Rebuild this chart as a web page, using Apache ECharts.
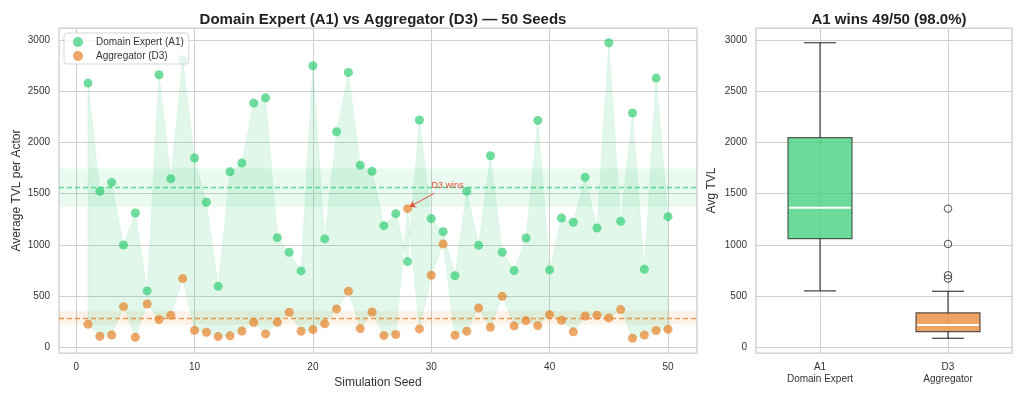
<!DOCTYPE html>
<html><head><meta charset="utf-8">
<script src="https://cdn.jsdelivr.net/npm/echarts@6/dist/echarts.min.js"></script>
<style>html,body{margin:0;padding:0;background:#fff}#c{width:1022px;height:399px}</style>
</head><body><div id="c"></div>
<script>
// ---------- data ----------
const seeds = [1,2,3,4,5,6,7,8,9,10,11,12,13,14,15,16,17,18,19,20,21,22,23,24,25,26,27,28,29,30,31,32,33,34,35,36,37,38,39,40,41,42,43,44,45,46,47,48,49,50];
const a1Values = [2578,1523,1610,1000,1312,552,2659,1646,2805,1848,
                  1416,597,1714,1799,2383,2435,1071,929,747,2747,
                  1059,2104,2682,1776,1718,1188,1305,838,2218,1257,
                  1130,701,1523,997,1870,929,750,1068,2214,757,
                  1263,1221,1659,1166,2971,1231,2286,763,2627,1276];
const d3Values = [227,110,123,399,101,425,273,315,672,169,
                  149,107,114,162,244,133,247,344,159,175,
                  231,377,549,185,347,117,127,1354,182,705,
                  1010,120,159,386,198,500,211,263,214,321,
                  266,153,308,315,289,370,91,123,166,179];
const seedTicks = [0,10,20,30,40,50];
const tvlTicks = [0,500,1000,1500,2000,2500,3000];
const boxPositions = [1,2];
const boxLabels = ['A1\nDomain Expert','D3\nAggregator'];
const seriesNames = ['Domain Expert (A1)','Aggregator (D3)'];
const annotationText = 'D3 wins';

// ---------- helpers ----------
function mean(a){return a.reduce((s,v)=>s+v,0)/a.length;}
function std(a){const m=mean(a);return Math.sqrt(a.reduce((s,v)=>s+(v-m)*(v-m),0)/(a.length-1));}
function quantile(a,p){const s=[...a].sort((x,y)=>x-y);const pos=(s.length-1)*p;const lo=Math.floor(pos),hi=Math.ceil(pos);return s[lo]+(s[hi]-s[lo])*(pos-lo);}
function boxStats(a){
  const q1=quantile(a,0.25),q3=quantile(a,0.75),md=quantile(a,0.5),iqr=q3-q1;
  const lf=q1-1.5*iqr,uf=q3+1.5*iqr;
  const inside=a.filter(v=>v>=lf&&v<=uf);
  return {min:Math.min(...inside),q1,md,q3,max:Math.max(...inside),out:a.filter(v=>v<lf||v>uf)};
}
const n=seeds.length;
const mA=mean(a1Values), mD=mean(d3Values);
const ciA=1.96*std(a1Values)/Math.sqrt(n), ciD=1.96*std(d3Values)/Math.sqrt(n);
const allV=a1Values.concat(d3Values);
const yLo=Math.min(...allV), yHi=Math.max(...allV), yR=yHi-yLo;
const yMin=yLo-0.05*yR, yMax=yHi+0.05*yR;
const xR=seeds[n-1]-seeds[0];
const xMin=seeds[0]-0.05*xR, xMax=seeds[n-1]+0.05*xR;
const wins=a1Values.filter((v,i)=>v>d3Values[i]).length;
const lossIdx=d3Values.findIndex((v,i)=>v>a1Values[i]);
const bA=boxStats(a1Values), bD=boxStats(d3Values);
const boxData=[[boxPositions[0],bA.min,bA.q1,bA.md,bA.q3,bA.max],[boxPositions[1],bD.min,bD.q1,bD.md,bD.q3,bD.max]];
const outliers=[].concat(bA.out.map(v=>[boxPositions[0],v]),bD.out.map(v=>[boxPositions[1],v]));
const boxFill=['rgba(46,204,113,0.7)','rgba(230,126,34,0.7)'];
const fillData=seeds.map((s,i)=>[s,a1Values[i],d3Values[i]]);

const FONT="'Liberation Sans', Arial, sans-serif";
const TXT='#333333';
const GRIDC='#d0d0d0';
const chart=echarts.init(document.getElementById('c'),null,{renderer:'canvas'});
const ls=seeds[lossIdx], lv=d3Values[lossIdx];
const plain=v=>String(v);

chart.setOption({
  animation:false,
  textStyle:{fontFamily:FONT},
  title:[
    {text:'Domain Expert (A1) vs Aggregator (D3) \u2014 50 Seeds',left:378,top:7,textAlign:'center',
     textStyle:{fontSize:15,fontWeight:'bold',color:'#222',fontFamily:FONT}},
    {text:'A1 wins '+wins+'/'+n+' ('+(100*wins/n).toFixed(1)+'%)',left:884,top:7,textAlign:'center',
     textStyle:{fontSize:15,fontWeight:'bold',color:'#222',fontFamily:FONT}}
  ],
  legend:{
    data:seriesNames,left:64,top:33,orient:'vertical',icon:'circle',z:10,
    itemWidth:10,itemHeight:10,itemGap:4,padding:[4,5,3,9],
    backgroundColor:'rgba(255,255,255,0.8)',borderColor:'#d5d5d5',borderWidth:1,borderRadius:3,
    textStyle:{fontSize:10,color:TXT,fontFamily:FONT,padding:[0,0,0,8]}
  },
  grid:[
    {left:59,top:28,width:638,height:325,outerBoundsMode:'none',containLabel:false,show:true,borderColor:'#cccccc',borderWidth:1.25,backgroundColor:'#fff'},
    {left:756,top:28,width:256,height:325,outerBoundsMode:'none',containLabel:false,show:true,borderColor:'#cccccc',borderWidth:1.25,backgroundColor:'#fff'}
  ],
  xAxis:[
    {type:'value',gridIndex:0,min:xMin,max:xMax,
     name:'Simulation Seed',nameLocation:'middle',nameGap:24,nameMoveOverlap:false,nameTextStyle:{fontSize:12,color:TXT},
     axisLine:{show:false},axisTick:{show:false,customValues:seedTicks},
     axisLabel:{customValues:seedTicks,formatter:plain,fontSize:10,color:TXT,margin:9},
     splitLine:{show:true,lineStyle:{color:GRIDC,width:1}}},
    {type:'value',gridIndex:1,min:0.5,max:2.5,
     axisLine:{show:false},axisTick:{show:false,customValues:boxPositions},
     axisLabel:{customValues:boxPositions,formatter:v=>boxLabels[boxPositions.indexOf(v)]||'',
       fontSize:10,color:TXT,lineHeight:12,margin:8},
     splitLine:{show:true,lineStyle:{color:GRIDC,width:1}}}
  ],
  yAxis:[
    {type:'value',gridIndex:0,min:yMin,max:yMax,
     name:'Average TVL per Actor',nameLocation:'middle',nameGap:36,nameMoveOverlap:false,nameTextStyle:{fontSize:12,color:TXT},
     axisLine:{show:false},axisTick:{show:false,customValues:tvlTicks},
     axisLabel:{customValues:tvlTicks,formatter:plain,fontSize:10,color:TXT,margin:9},
     splitLine:{show:true,lineStyle:{color:GRIDC,width:1}}},
    {type:'value',gridIndex:1,min:yMin,max:yMax,
     name:'Avg TVL',nameLocation:'middle',nameGap:38,nameMoveOverlap:false,nameTextStyle:{fontSize:12,color:TXT},
     axisLine:{show:false},axisTick:{show:false,customValues:tvlTicks},
     axisLabel:{customValues:tvlTicks,formatter:plain,fontSize:10,color:TXT,margin:9},
     splitLine:{show:true,lineStyle:{color:GRIDC,width:1}}}
  ],
  series:[
    // mean bands + mean lines
    {type:'line',xAxisIndex:0,yAxisIndex:0,data:[],silent:true,z:1,
     markArea:{silent:true,itemStyle:{color:'rgba(46,204,113,0.1)'},data:[[{yAxis:mA-ciA},{yAxis:mA+ciA}]]},
     markLine:{silent:true,symbol:'none',label:{show:false},
       lineStyle:{color:'rgba(46,204,113,0.75)',type:[5,3],width:1.4},data:[{yAxis:mA}]}},
    {type:'line',xAxisIndex:0,yAxisIndex:0,data:[],silent:true,z:1,
     markArea:{silent:true,itemStyle:{color:'rgba(230,126,34,0.1)'},data:[[{yAxis:mD-ciD},{yAxis:mD+ciD}]]},
     markLine:{silent:true,symbol:'none',label:{show:false},
       lineStyle:{color:'rgba(230,126,34,0.75)',type:[5,3],width:1.4},data:[{yAxis:mD}]}},
    // fill between A1 and D3
    {type:'custom',xAxisIndex:0,yAxisIndex:0,z:2,silent:true,data:fillData,encode:{x:0,y:[1,2]},
     renderItem:function(params,api){
       if(params.dataIndex!==0) return null;
       const top=fillData.map(r=>api.coord([r[0],r[1]]));
       const bot=fillData.map(r=>api.coord([r[0],r[2]])).reverse();
       return {type:'polygon',shape:{points:top.concat(bot)},
         style:{fill:'rgba(46,204,113,0.15)',stroke:'rgba(46,204,113,0.12)',lineWidth:0.8}};
     }},
    // points
    {type:'scatter',name:seriesNames[0],xAxisIndex:0,yAxisIndex:0,z:3,symbolSize:9,
     itemStyle:{color:'rgba(46,204,113,0.85)'},data:seeds.map((s,i)=>[s,a1Values[i]])},
    {type:'scatter',name:seriesNames[1],xAxisIndex:0,yAxisIndex:0,z:3,symbolSize:9,
     itemStyle:{color:'rgba(230,126,34,0.85)'},data:seeds.map((s,i)=>[s,d3Values[i]]),
     markLine:{silent:true,symbol:['none','arrow'],symbolSize:6,label:{show:false},
       lineStyle:{color:'#e74c3c',type:'solid',width:1},
       data:[[{coord:[ls+2.26,lv+150]},{coord:[ls+0.17,lv+18]}]]},
     markPoint:{silent:true,symbol:'circle',symbolSize:1,itemStyle:{color:'rgba(0,0,0,0)'},
       label:{show:true,position:'right',distance:0,formatter:annotationText,fontSize:9,color:'#e74c3c',fontFamily:FONT},
       data:[{coord:[ls+1.98,lv+224]}]}},
    // box plot
    {type:'custom',xAxisIndex:1,yAxisIndex:1,z:3,silent:true,data:boxData,
     encode:{x:0,y:[1,5]},
     renderItem:function(params,api){
       const c=api.value(0);
       const w=api.size([0.5,0])[0];
       const hw=w/2, cw=w/4;
       const p=[1,2,3,4,5].map(k=>api.coord([c,api.value(k)]));
       const x=p[0][0];
       const ws={stroke:'#1a1a1a',lineWidth:1};
       return {type:'group',children:[
         {type:'line',shape:{x1:x,y1:p[1][1],x2:x,y2:p[0][1]},style:ws},
         {type:'line',shape:{x1:x,y1:p[3][1],x2:x,y2:p[4][1]},style:ws},
         {type:'line',shape:{x1:x-cw,y1:p[0][1],x2:x+cw,y2:p[0][1]},style:ws},
         {type:'line',shape:{x1:x-cw,y1:p[4][1],x2:x+cw,y2:p[4][1]},style:ws},
         {type:'rect',shape:{x:x-hw,y:p[3][1],width:2*hw,height:p[1][1]-p[3][1]},
          style:{fill:boxFill[params.dataIndex],stroke:'rgba(40,40,40,0.75)',lineWidth:1.2}},
         {type:'line',shape:{x1:x-hw+1,y1:p[2][1],x2:x+hw-1,y2:p[2][1]},style:{stroke:'#ffffff',lineWidth:2}}
       ]};
     }},
    {type:'scatter',xAxisIndex:1,yAxisIndex:1,z:4,silent:true,symbol:'circle',symbolSize:7.5,
     itemStyle:{color:'rgba(255,255,255,0)',borderColor:'#222222',borderWidth:1},data:outliers}
  ]
});
</script></body></html>
